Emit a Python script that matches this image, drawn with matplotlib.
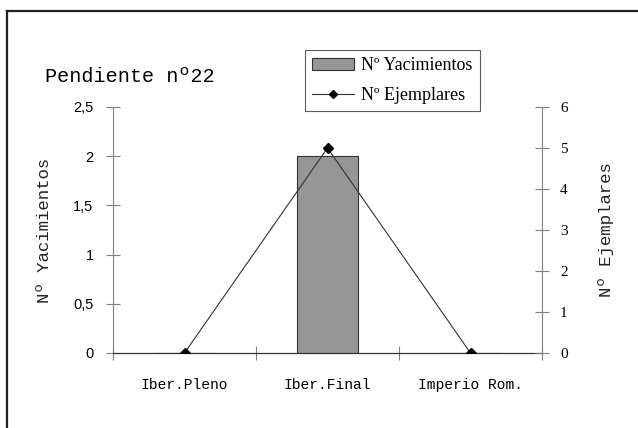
import matplotlib
matplotlib.use("Agg")
import matplotlib.pyplot as plt
from matplotlib.lines import Line2D
from matplotlib.patches import Patch

categories = ["Iber.Pleno", "Iber.Final", "Imperio Rom."]
yacimientos = [0, 2, 0]
ejemplares = [0, 5, 0]
left_ticks = [0, 0.5, 1, 1.5, 2, 2.5]
left_labels = ["0", "0,5", "1", "1,5", "2", "2,5"]
right_ticks = [0, 1, 2, 3, 4, 5, 6]

mono = "Liberation Mono"
serif = "Liberation Serif"
sans = "Liberation Sans"

fig = plt.figure(figsize=(6.38, 4.28), dpi=100)
fig.patch.set_facecolor("white")

# outer frame: only top and left edges are visible
fig.add_artist(Line2D([6.5 / 638, 6.5 / 638], [0, 1 - 10.5 / 428],
                      transform=fig.transFigure, color="#222222", lw=1.6))
fig.add_artist(Line2D([6.5 / 638, 1], [1 - 10.5 / 428, 1 - 10.5 / 428],
                      transform=fig.transFigure, color="#222222", lw=1.6))

ax = fig.add_axes([113 / 638, 1 - 353 / 428, (542 - 113) / 638, (353 - 107) / 428])
ax2 = ax.twinx()

x = list(range(len(categories)))
ax.bar(x, yacimientos, width=0.42, color="#969696", edgecolor="#333333", linewidth=0.8, zorder=2)
ax.set_xlim(-0.5, 2.5)
ax.set_ylim(0, 2.5)
ax2.set_ylim(0, 6)
ax2.plot(x, ejemplares, color="#333333", lw=0.8, marker="D", markersize=5,
         markerfacecolor="black", markeredgecolor="black", zorder=3)

for a in (ax, ax2):
    a.patch.set_visible(False)
    a.spines["top"].set_visible(False)
    for s in ("left", "right"):
        a.spines[s].set_color("#808080")
        a.spines[s].set_linewidth(0.8)
    a.spines["bottom"].set_color("#333333")
    a.spines["bottom"].set_linewidth(0.9)

ax.spines["right"].set_visible(False)
ax2.spines["left"].set_visible(False)
ax2.spines["bottom"].set_visible(False)

ax.set_yticks(left_ticks)
ax.set_yticklabels(left_labels, fontfamily=sans, fontsize=10.5)
ax.tick_params(axis="y", direction="inout", length=10, width=0.8, color="#808080", pad=9)
ax2.set_yticks(right_ticks)
ax2.set_yticklabels([str(t) for t in right_ticks], fontfamily=serif, fontsize=11)
ax2.tick_params(axis="y", direction="inout", length=10, width=0.8, color="#808080", pad=8)

# category separators as major ticks, names as minor tick labels
ax.set_xticks([-0.5, 0.5, 1.5, 2.5])
ax.set_xticklabels([])
ax.tick_params(axis="x", which="major", direction="inout", length=10, width=0.8, color="#808080")
ax.set_xticks(x, minor=True)
ax.set_xticklabels(categories, minor=True, fontfamily=mono, fontsize=10.5)
ax.tick_params(axis="x", which="minor", length=0, pad=18)

ax.set_ylabel("Nº Yacimientos", fontfamily=mono, fontsize=12.5, labelpad=15, color="#222222")
ax2.set_ylabel("Nº Ejemplares", fontfamily=mono, fontsize=12.5, labelpad=22, color="#222222")

fig.text(45 / 638, 1 - 76 / 428, "Pendiente nº22", fontfamily=mono, fontsize=14.5,
         ha="left", va="center")

handles = [Patch(facecolor="#969696", edgecolor="#333333", linewidth=0.8),
           Line2D([], [], color="#333333", lw=0.8, marker="D", markersize=4,
                  markerfacecolor="black", markeredgecolor="black")]
leg = fig.legend(handles, ["Nº Yacimientos", "Nº Ejemplares"],
                 loc="upper left", bbox_to_anchor=(305 / 638, 1 - 50 / 428),
                 prop={"family": serif, "size": 13}, frameon=True, fancybox=False,
                 edgecolor="#333333", borderpad=0.4, handlelength=2.3,
                 handletextpad=0.4, labelspacing=0.7, borderaxespad=0)
leg.get_frame().set_linewidth(0.8)

fig.savefig("out.png", dpi=100, facecolor="white")
